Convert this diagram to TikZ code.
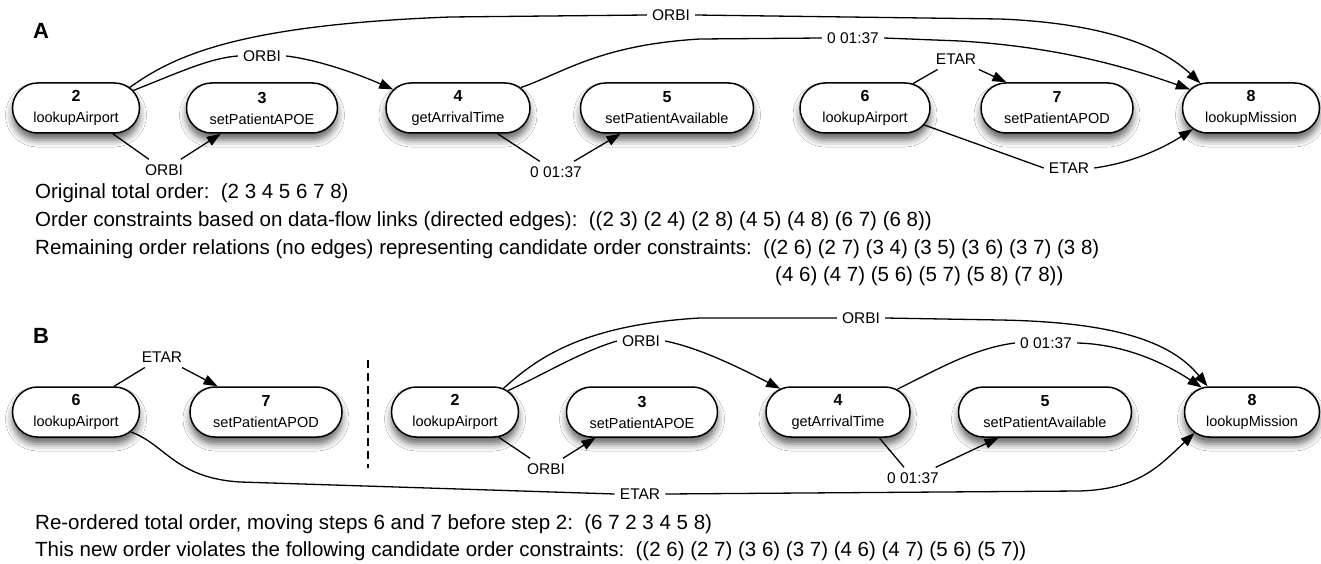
\documentclass[tikz,border=0pt]{standalone}
\usepackage{fontspec}
\setmainfont{Liberation Sans}
\usetikzlibrary{shapes.misc,arrows.meta,shadows.blur}
\tikzset{
  stepnode/.style={rounded rectangle, draw, line width=1.5pt, fill=white, minimum height=50pt,
    inner sep=0pt, align=center, font=\fontsize{14.5}{21}\selectfont,
    blur shadow={shadow xshift=0pt, shadow yshift=-7pt, shadow blur radius=7pt, shadow opacity=60}},
  elabel/.style={font=\fontsize{15.5}{18}\selectfont, inner sep=5pt},
  edge/.style={line width=1.3pt},
  arr/.style={line width=1.3pt, -{Triangle[length=14pt,width=10pt]}},
  maintext/.style={font=\fontsize{20.5}{24}\selectfont, anchor=base west, inner sep=0pt},
  panel/.style={font=\bfseries\fontsize{22}{22}\selectfont, inner sep=0pt},
  sep/.style={line width=1.5pt, dash pattern=on 8pt off 5pt}
}
\newcommand{\stp}[2]{{\bfseries\fontsize{16}{21}\selectfont #1}\\#2}
\begin{document}
\begin{tikzpicture}[x=1pt,y=1pt]
\useasboundingbox (0,0) rectangle (1321,-564);
\fill[white] (0,0) rectangle (1321,-564);

% ---------- Panel A ----------
\node[panel] (labA) at (41,-31) {A};
\node[stepnode, minimum width=127pt] (n2a) at (76,-108) {\stp{2}{lookupAirport}};
\node[stepnode, minimum width=151pt] (n3a) at (262,-108) {\stp{3}{setPatientAPOE}};
\node[stepnode, minimum width=144pt] (n4a) at (458,-108) {\stp{4}{getArrivalTime}};
\node[stepnode, minimum width=173pt] (n5a) at (667,-108) {\stp{5}{setPatientAvailable}};
\node[stepnode, minimum width=130pt] (n6a) at (865,-108) {\stp{6}{lookupAirport}};
\node[stepnode, minimum width=152pt] (n7a) at (1057,-108) {\stp{7}{setPatientAPOD}};
\node[stepnode, minimum width=137pt] (n8a) at (1251,-108) {\stp{8}{lookupMission}};

\node[elabel] (l23a) at (164,-170) {ORBI};
\node[elabel] (l24a) at (262,-56) {ORBI};
\node[elabel] (l28a) at (671,-15) {ORBI};
\node[elabel] (l48a) at (853,-38) {0 01:37};
\node[elabel] (l45a) at (556,-172) {0 01:37};
\node[elabel] (l67a) at (956,-59) {ETAR};
\node[elabel] (l68a) at (1069,-168) {ETAR};

\draw[edge] (n2a.-35) -- (l23a);
\draw[arr] (l23a) -- (n3a.212);
\draw[edge] (n2a.17) .. controls (180,-72) and (210,-58) .. (l24a.west);
\draw[arr] (l24a.east) .. controls (320,-60) and (360,-75) .. (n4a.164);
\draw[edge] (n2a.21) .. controls (175,-55) and (240,-25) .. (450,-17) -- (l28a.west);
\draw[arr] (l28a.east) -- (1000,-19) .. controls (1100,-23) and (1160,-45) .. (n8a.154);
\draw[edge] (n4a.18) .. controls (565,-72) and (600,-45) .. (700,-39) -- (l48a.west);
\draw[arr] (l48a.east) -- (960,-41) .. controls (1060,-47) and (1130,-68) .. (n8a.163);
\draw[edge] (n4a.-33) -- (l45a);
\draw[arr] (l45a) -- (n5a.209);
\draw[edge] (n6a.27) -- (l67a);
\draw[arr] (l67a) -- (n7a.153);
\draw[edge] (n6a.-16) -- (l68a.west);
\draw[arr] (l68a.east) .. controls (1130,-163) and (1160,-150) .. (n8a.200);

\node[maintext] (ta1) at (35,-198) {Original total order:\ \ (2 3 4 5 6 7 8)};
\node[maintext] (ta2) at (35,-226) {Order constraints based on data-flow links (directed edges):\ \ ((2 3) (2 4) (2 8) (4 5) (4 8) (6 7) (6 8))};
\node[maintext] (ta3) at (35,-254) {Remaining order relations (no edges) representing candidate order constraints:\ \ ((2 6) (2 7) (3 4) (3 5) (3 6) (3 7) (3 8)};
\node[maintext] (ta4) at (775,-281) {(4 6) (4 7) (5 6) (5 7) (5 8) (7 8))};

% ---------- Panel B ----------
\node[panel] (labB) at (41,-336) {B};
\node[stepnode, minimum width=127pt] (n6b) at (76,-412) {\stp{6}{lookupAirport}};
\node[stepnode, minimum width=152pt] (n7b) at (266,-412) {\stp{7}{setPatientAPOD}};
\node[stepnode, minimum width=127pt] (n2b) at (455,-412) {\stp{2}{lookupAirport}};
\node[stepnode, minimum width=151pt] (n3b) at (642,-412) {\stp{3}{setPatientAPOE}};
\node[stepnode, minimum width=144pt] (n4b) at (838,-412) {\stp{4}{getArrivalTime}};
\node[stepnode, minimum width=173pt] (n5b) at (1045,-412) {\stp{5}{setPatientAvailable}};
\node[stepnode, minimum width=135pt] (n8b) at (1252,-412) {\stp{8}{lookupMission}};

\coordinate (sepTop) at (368,-360);
\coordinate (sepBot) at (368,-468);
\draw[sep] (sepTop) -- (sepBot);

\node[elabel] (l67b) at (162,-357) {ETAR};
\node[elabel] (l68b) at (640,-494) {ETAR};
\node[elabel] (l23b) at (546,-469) {ORBI};
\node[elabel] (l24b) at (641,-341) {ORBI};
\node[elabel] (l28b) at (861,-318) {ORBI};
\node[elabel] (l48b) at (1046,-343) {0 01:37};
\node[elabel] (l45b) at (913,-478) {0 01:37};

\draw[edge] (n6b.34) -- (l67b);
\draw[arr] (l67b) -- (n7b.152);
\draw[edge] (n6b.-20) .. controls (165,-444) and (175,-478) .. (240,-482) -- (l68b.west);
\draw[arr] (l68b.east) -- (1080,-491) .. controls (1140,-489) and (1160,-465) .. (n8b.200);
\draw[edge] (n2b.-30) -- (l23b);
\draw[arr] (l23b) -- (n3b.209);
\draw[edge] (n2b.22) .. controls (545,-374) and (580,-352) .. (l24b.west);
\draw[arr] (l24b.east) .. controls (700,-348) and (740,-368) .. (n4b.158);
\draw[edge] (n2b.26) .. controls (535,-360) and (580,-325) .. (700,-318) -- (l28b.west);
\draw[arr] (l28b.east) -- (1000,-320) .. controls (1110,-322) and (1170,-340) .. (n8b.150);
\draw[edge] (n4b.21) .. controls (940,-368) and (975,-348) .. (l48b.west);
\draw[arr] (l48b.east) .. controls (1120,-344) and (1160,-360) .. (n8b.154);
\draw[edge] (n4b.-32) -- (l45b);
\draw[arr] (l45b) -- (n5b.209);

\node[maintext] (tb1) at (35,-529) {Re-ordered total order, moving steps 6 and 7 before step 2:\ \ (6 7 2 3 4 5 8)};
\node[maintext] (tb2) at (35,-556) {This new order violates the following candidate order constraints:\ \ ((2 6) (2 7) (3 6) (3 7) (4 6) (4 7) (5 6) (5 7))};
\end{tikzpicture}
\end{document}
